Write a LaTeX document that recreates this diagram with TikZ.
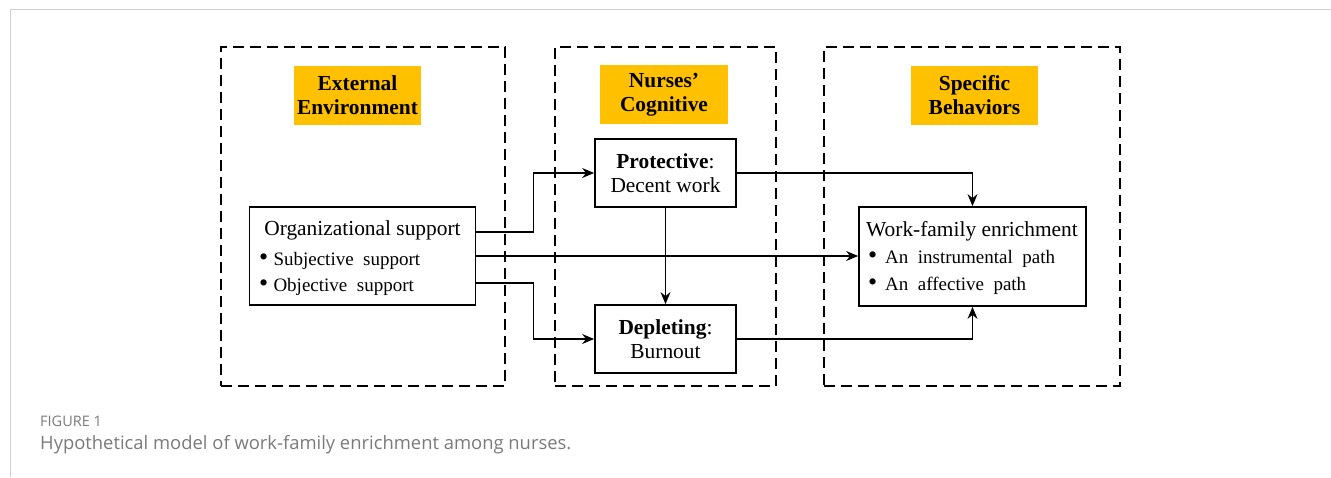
\documentclass[tikz,border=0pt]{standalone}
\usepackage{fontspec}
\setmainfont{Liberation Serif}
\newfontfamily\capfont{Open Sans}
\usetikzlibrary{arrows.meta,calc}
\definecolor{gold}{HTML}{FFC000}
\definecolor{framegray}{HTML}{D0D0D0}
\definecolor{capgray}{HTML}{7A7A7A}
\begin{document}
\begin{tikzpicture}[x=1pt,y=-1pt,
  dashbox/.style={draw,line width=1.6pt,dash pattern=on 11pt off 6pt,minimum width=#1,minimum height=339pt,inner sep=0pt},
  tagbox/.style={fill=gold,minimum width=127pt,minimum height=59pt,inner sep=0pt,align=center,font=\fontsize{21.4}{24}\selectfont\bfseries},
  solidbox/.style={draw,line width=1.8pt,inner sep=0pt},
  midbox/.style={solidbox,minimum width=141pt,minimum height=68pt,align=center,font=\fontsize{21.4}{24}\selectfont},
  maintext/.style={inner sep=0pt,anchor=base,font=\fontsize{21.4}{24}\selectfont},
  itemtext/.style={inner sep=0pt,anchor=base west,font=\fontsize{19}{22}\selectfont},
  bul/.style={inner sep=0pt,anchor=base,font=\fontsize{26}{26}\selectfont},
  arr/.style={line width=1.1pt,-{Stealth[length=12pt,width=10pt,inset=4pt]}}
]
\useasboundingbox (0,0) rectangle (1331,477);
% page frame
\draw[framegray,line width=1pt] (10,477) -- (10,9) -- (1331,9);
% dashed groups
\node[dashbox=284pt] (env) at (363,216.5) {};
\node[dashbox=221pt] (cog) at (665.5,216.5) {};
\node[dashbox=296pt] (beh) at (972,216.5) {};
% tags
\node[tagbox] (t1) at (357.5,95.5) {External\\Environment};
\node[tagbox,minimum width=128pt] (t2) at (664,94.5) {Nurses'\\Cognitive};
\node[tagbox] (t3) at (974.5,95.5) {Specific\\Behaviors};
% boxes
\node[solidbox,minimum width=226pt,minimum height=98pt] (org) at (362.5,256) {};
\node[maintext] (orgt) at (362.5,235.7) {Organizational support};
\node[bul] (ob1) at (263.7,265) {\textbullet};
\node[itemtext] (org1) at (273.3,265) {Subjective\ \ support};
\node[bul] (ob2) at (263.7,291.5) {\textbullet};
\node[itemtext] (org2) at (273.3,291.5) {Objective\ \ support};
\node[midbox] (prot) at (665.5,173) {\textbf{Protective}:\\Decent work};
\node[midbox] (dep) at (665.5,339) {\textbf{Depleting}:\\Burnout};
\node[solidbox,minimum width=227pt,minimum height=99pt] (wf) at (972.5,256.5) {};
\node[maintext] (wft) at (972,236.7) {Work-family enrichment};
\node[bul] (wb1) at (872.6,263) {\textbullet};
\node[itemtext] (wf1) at (885,263) {An\ \ instrumental\ \ path};
\node[bul] (wb2) at (872.6,290) {\textbullet};
\node[itemtext] (wf2) at (885,290) {An\ \ affective\ \ path};
% connectors
\draw[arr] ([yshift=24pt]org.east) -- ++(57,0) |- (prot.west);
\draw[arr] (org.east) -- (org.east -| wf.west);
\draw[arr] ([yshift=-27pt]org.east) -- ++(57,0) |- (dep.west);
\draw[arr] (prot.south) -- (dep.north);
\draw[arr] (prot.east) -| (wf.north);
\draw[arr] (dep.east) -| (wf.south);
% caption
\node[inner sep=0pt,anchor=base west,text=capgray,font=\capfont\fontsize{14.5}{17}\selectfont] (fig) at (40,426.7) {FIGURE 1};
\node[inner sep=0pt,anchor=base west,text=capgray,font=\capfont\fontsize{18.4}{22}\selectfont] (cap) at (40,449.3) {Hypothetical model of work-family enrichment among nurses.};
\end{tikzpicture}
\end{document}
